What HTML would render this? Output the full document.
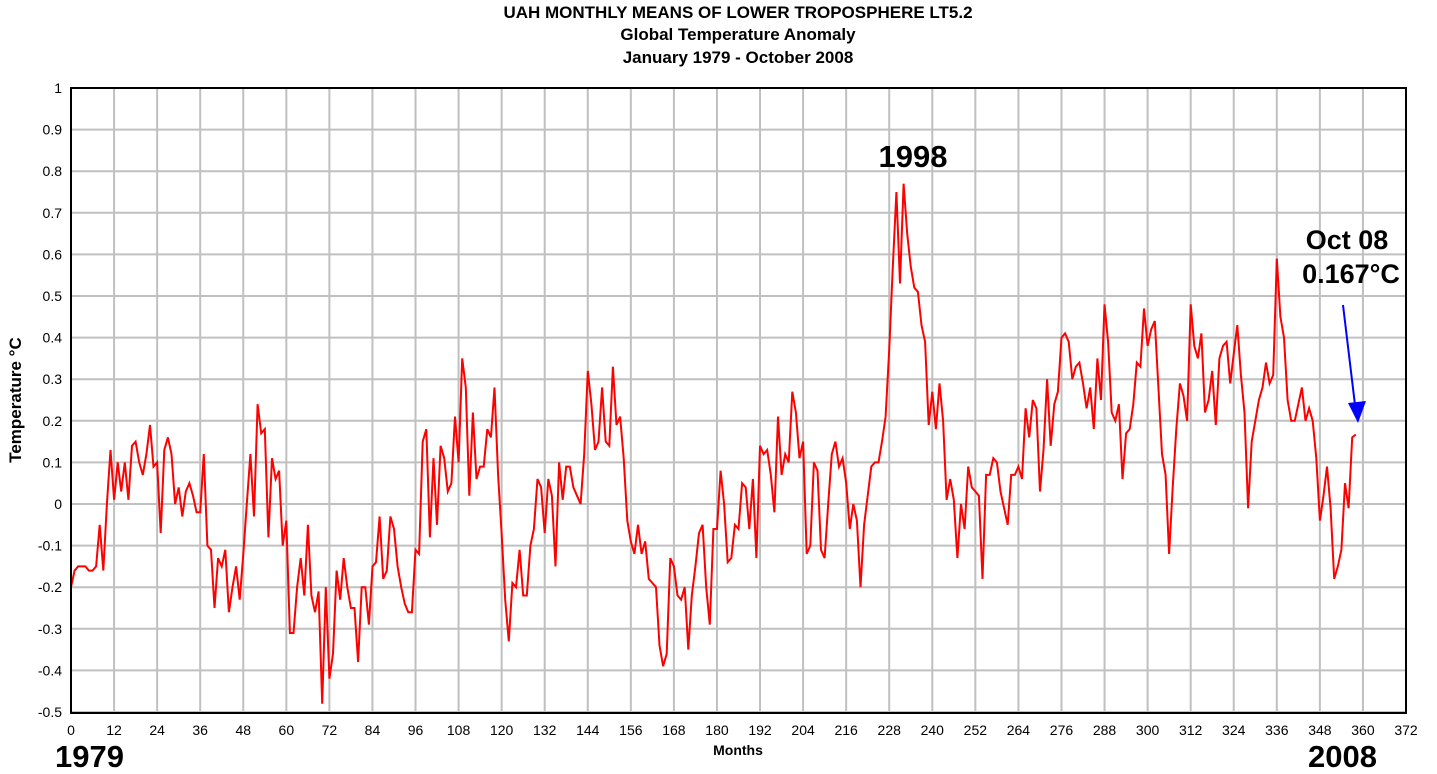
<!DOCTYPE html>
<html><head><meta charset="utf-8"><style>
body{margin:0;background:#fff;width:1437px;height:769px;overflow:hidden}
svg text{font-family:"Liberation Sans",Arial,sans-serif}
</style></head><body>
<svg id="chart" width="1437" height="769" xmlns="http://www.w3.org/2000/svg">
<g font-weight="bold" font-size="17" text-anchor="middle">
<text x="738" y="18">UAH MONTHLY MEANS OF LOWER TROPOSPHERE LT5.2</text>
<text x="738" y="40">Global Temperature Anomaly</text>
<text x="738" y="63">January 1979 - October 2008</text>
</g>
<g id="grid"></g>
<g id="yticks" font-size="14" text-anchor="end"></g>
<g id="xticks" font-size="14" text-anchor="middle"></g>
<path id="line" fill="none" stroke="#ff0000" stroke-width="2"/>
<rect x="71" y="88" width="1335" height="625" fill="none" stroke="#000" stroke-width="2"/>
<text x="738" y="755" font-size="14" font-weight="bold" text-anchor="middle">Months</text>
<text transform="translate(21,400) rotate(-90)" font-size="17" font-weight="bold" text-anchor="middle">Temperature °C</text>
<text x="55" y="767" font-size="31" font-weight="bold">1979</text>
<text x="1308" y="767" font-size="31" font-weight="bold">2008</text>
<text x="913" y="167" font-size="31" font-weight="bold" text-anchor="middle">1998</text>
<text x="1347" y="249" font-size="27" font-weight="bold" text-anchor="middle">Oct 08</text>
<text x="1351" y="283" font-size="27" font-weight="bold" text-anchor="middle">0.167°C</text>
<g>
<line x1="1343" y1="305" x2="1355" y2="405" stroke="#0000ff" stroke-width="2"/>
<polygon points="1358,423 1348,403 1366,401" fill="#0000ff"/>
</g>
</svg>
<script>
const xTicks=[0,12,24,36,48,60,72,84,96,108,120,132,144,156,168,180,192,204,216,228,240,252,264,276,288,300,312,324,336,348,360,372];
const yTicks=[-0.5,-0.4,-0.3,-0.2,-0.1,0,0.1,0.2,0.3,0.4,0.5,0.6,0.7,0.8,0.9,1];
const yTickLabels=["-0.5","-0.4","-0.3","-0.2","-0.1","0","0.1","0.2","0.3","0.4","0.5","0.6","0.7","0.8","0.9","1"];
const anomalies=[
-0.2,-0.16,-0.15,-0.15,-0.15,-0.16,-0.16,-0.15,-0.05,-0.16,0.0,0.13,
0.01,0.10,0.03,0.10,0.01,0.14,0.15,0.10,0.07,0.12,0.19,0.09,
0.10,-0.07,0.13,0.16,0.12,0.0,0.04,-0.03,0.03,0.05,0.02,-0.02,
-0.02,0.12,-0.10,-0.11,-0.25,-0.13,-0.15,-0.11,-0.26,-0.20,-0.15,-0.23,
-0.12,0.0,0.12,-0.03,0.24,0.17,0.18,-0.08,0.11,0.06,0.08,-0.10,
-0.04,-0.31,-0.31,-0.20,-0.13,-0.22,-0.05,-0.22,-0.26,-0.21,-0.48,-0.20,
-0.42,-0.36,-0.16,-0.23,-0.13,-0.20,-0.25,-0.25,-0.38,-0.20,-0.20,-0.29,
-0.15,-0.14,-0.03,-0.18,-0.16,-0.03,-0.06,-0.15,-0.20,-0.24,-0.26,-0.26,
-0.11,-0.12,0.15,0.18,-0.08,0.11,-0.05,0.14,0.11,0.03,0.05,0.21,
0.10,0.35,0.28,0.02,0.22,0.06,0.09,0.09,0.18,0.16,0.28,0.07,
-0.07,-0.23,-0.33,-0.19,-0.20,-0.11,-0.22,-0.22,-0.10,-0.06,0.06,0.04,
-0.07,0.06,0.02,-0.15,0.10,0.01,0.09,0.09,0.04,0.02,0.0,0.12,
0.32,0.24,0.13,0.15,0.28,0.15,0.14,0.33,0.19,0.21,0.11,-0.04,
-0.09,-0.12,-0.05,-0.12,-0.09,-0.18,-0.19,-0.20,-0.34,-0.39,-0.36,-0.13,
-0.15,-0.22,-0.23,-0.20,-0.35,-0.22,-0.15,-0.07,-0.05,-0.20,-0.29,-0.06,
-0.06,0.08,0.0,-0.14,-0.13,-0.05,-0.06,0.05,0.04,-0.06,0.06,-0.13,
0.14,0.12,0.13,0.07,-0.02,0.21,0.07,0.12,0.10,0.27,0.22,0.11,
0.15,-0.12,-0.10,0.10,0.08,-0.11,-0.13,0.0,0.12,0.15,0.09,0.11,
0.05,-0.06,0.0,-0.04,-0.20,-0.05,0.02,0.09,0.10,0.10,0.15,0.21,
0.37,0.57,0.75,0.53,0.77,0.65,0.57,0.52,0.51,0.43,0.39,0.19,
0.27,0.18,0.29,0.20,0.01,0.06,0.01,-0.13,0.0,-0.06,0.09,0.04,
0.03,0.02,-0.18,0.07,0.07,0.11,0.10,0.03,-0.01,-0.05,0.07,0.07,
0.09,0.06,0.23,0.16,0.25,0.23,0.03,0.13,0.30,0.14,0.24,0.27,
0.40,0.41,0.39,0.30,0.33,0.34,0.29,0.23,0.28,0.18,0.35,0.25,
0.48,0.39,0.22,0.20,0.24,0.06,0.17,0.18,0.24,0.34,0.33,0.47,
0.38,0.42,0.44,0.28,0.12,0.07,-0.12,0.04,0.18,0.29,0.26,0.20,
0.48,0.38,0.35,0.41,0.22,0.25,0.32,0.19,0.35,0.38,0.39,0.29,
0.36,0.43,0.31,0.22,-0.01,0.15,0.20,0.25,0.28,0.34,0.29,0.31,
0.59,0.45,0.40,0.25,0.20,0.20,0.24,0.28,0.20,0.23,0.20,0.11,
-0.04,0.02,0.09,-0.01,-0.18,-0.15,-0.11,0.05,-0.01,0.16,0.167];

const X0=71,X1=1406,Y0=712,Y1=88,XMIN=0,XMAX=372,YMIN=-0.5,YMAX=1;
function xs(v){return X0+(v-XMIN)/(XMAX-XMIN)*(X1-X0);}
function ys(v){return Y0-(v-YMIN)/(YMAX-YMIN)*(Y0-Y1);}
const NS="http://www.w3.org/2000/svg";
const grid=document.getElementById('grid');
const yt=document.getElementById('yticks');
const xt=document.getElementById('xticks');
xTicks.forEach(t=>{
  const l=document.createElementNS(NS,'line');
  
  
  l.setAttribute('x1',xs(t));l.setAttribute('x2',xs(t));
  l.setAttribute('y1',Y1);l.setAttribute('y2',Y0);
  l.setAttribute('stroke','#c0c0c0');l.setAttribute('stroke-width','2');
  grid.appendChild(l);
  const tx=document.createElementNS(NS,'text');
  
  
  tx.setAttribute('x',xs(t));tx.setAttribute('y',735);
  tx.textContent=t;
  xt.appendChild(tx);
});
yTicks.forEach((t,i)=>{
  const l=document.createElementNS(NS,'line');
  
  
  l.setAttribute('x1',X0);l.setAttribute('x2',X1);
  l.setAttribute('y1',ys(t));l.setAttribute('y2',ys(t));
  l.setAttribute('stroke','#c0c0c0');l.setAttribute('stroke-width','2');
  grid.appendChild(l);
  const tx=document.createElementNS(NS,'text');
  
  
  tx.setAttribute('x',62);tx.setAttribute('y',ys(t)+5);
  tx.textContent=yTickLabels[i];
  yt.appendChild(tx);
});
document.getElementById('line').setAttribute('d',anomalies.map((v,i)=>(i?'L':'M')+xs(i).toFixed(1)+','+ys(v).toFixed(1)).join(''));
</script>
</body></html>
